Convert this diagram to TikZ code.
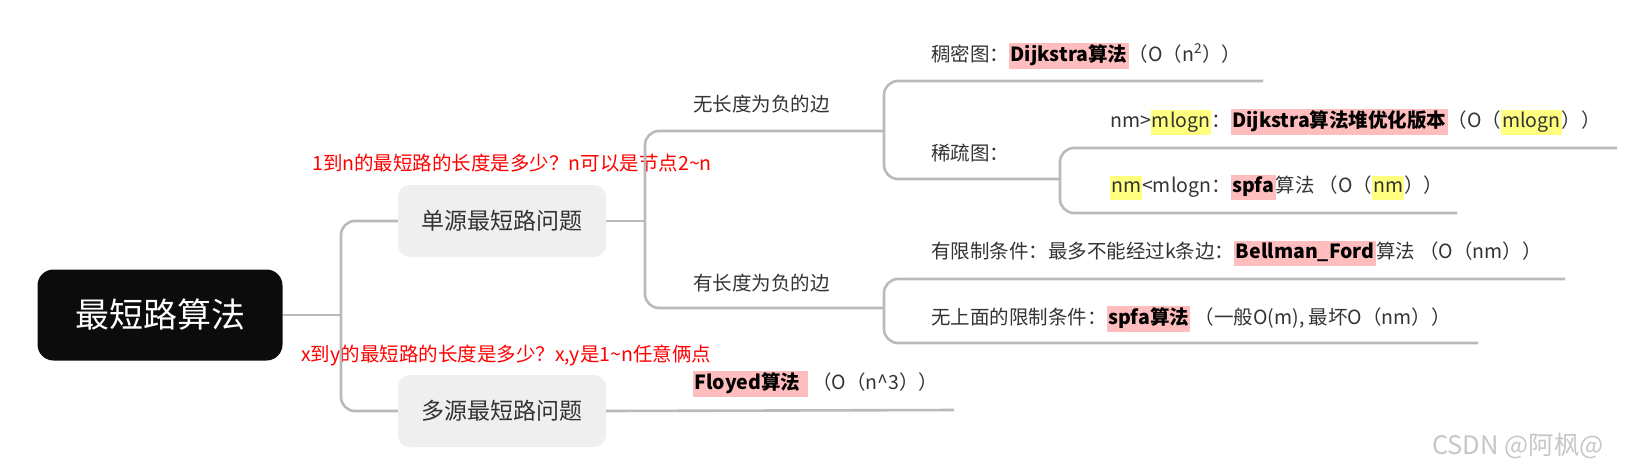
\documentclass[tikz,border=0pt]{standalone}
\usepackage{fontspec}
\setmainfont{Noto Sans CJK SC}
\usetikzlibrary{positioning}
\definecolor{linegray}{RGB}{186,186,186}
\definecolor{boxgray}{RGB}{239,239,239}
\definecolor{rootblack}{RGB}{12,12,12}
\definecolor{hlpink}{RGB}{255,189,189}
\definecolor{hlyellow}{RGB}{255,255,128}
\definecolor{txtgray}{RGB}{51,51,51}
\definecolor{notered}{RGB}{255,0,0}
\newcommand{\hlp}[1]{{\setlength{\fboxsep}{1.5pt}\colorbox{hlpink}{\strut\textcolor{black}{\bfseries #1}}}}
\newcommand{\hly}[1]{{\setlength{\fboxsep}{1pt}\colorbox{hlyellow}{\strut #1}}}

\begin{document}
\begin{tikzpicture}[x=1pt,y=-1pt,
  branch/.style={draw=linegray,line width=2.6pt,rounded corners=14pt},
  rootbox/.style={fill=rootblack,rounded corners=16pt,minimum width=245pt,minimum height=91pt,
    text=white,font=\fontsize{34}{40}\selectfont},
  subbox/.style={fill=boxgray,rounded corners=12pt,minimum width=208pt,minimum height=72pt,
    text=txtgray,font=\fontsize{23}{28}\selectfont},
  topic/.style={anchor=base west,inner sep=0pt,text=txtgray,font=\fontsize{19.5}{22}\selectfont},
  note/.style={anchor=base west,inner sep=0pt,text=notered,font=\fontsize{19.5}{22}\selectfont},
  watermark/.style={inner sep=0pt,text=black!22,font=\fontsize{25.5}{30}\selectfont}]
  \useasboundingbox (0,0) rectangle (1630,474);

  \node[rootbox] (root) at (160,315) {最短路算法};
  \node[subbox] (single) at (502,221) {单源最短路问题};
  \node[subbox] (multi) at (502,411) {多源最短路问题};
  \node[note] (note1) at (312,170) {1到n的最短路的长度是多少？n可以是节点2\textasciitilde n};
  \node[note] (note2) at (301,361) {x到y的最短路的长度是多少？x,y是1\textasciitilde n任意俩点};

  \coordinate (j0) at (341,315);
  \coordinate (j1) at (645,221);
  \coordinate (j2) at (884,131);
  \coordinate (j3) at (1060,179);
  \coordinate (j4) at (884,308);
  \coordinate (dense-e) at (1263,81);
  \coordinate (heap-e) at (1617,148);
  \coordinate (spfa1-e) at (1457,213);
  \coordinate (bellman-e) at (1565,279);
  \coordinate (spfa2-e) at (1478,343);
  \coordinate (floyd-e) at (954,410);

  \draw[branch] (root.east) -- (j0);
  \draw[branch] (j0) |- (single.west);
  \draw[branch] (j0) |- (multi.west);
  \draw[branch] (single.east) -- (j1);
  \draw[branch] (j1) |- (j2);
  \draw[branch] (j1) |- (j4);
  \draw[branch] (j2) |- (dense-e);
  \draw[branch] (j2) |- (j3);
  \draw[branch] (j3) |- (heap-e);
  \draw[branch] (j3) |- (spfa1-e);
  \draw[branch] (j4) |- (bellman-e);
  \draw[branch] (j4) |- (spfa2-e);
  \draw[branch] (multi.east) -- (floyd-e);

  \node[topic] (noneg) at (693,111) {无长度为负的边};
  \node[topic] (neg) at (693,290) {有长度为负的边};
  \node[topic] (dense) at (931,61) {稠密图：\hlp{Dijkstra算法}（O（n\textsuperscript{2}））};
  \node[topic] (sparse) at (931,160) {稀疏图：};
  \node[topic] (heap) at (1110,127) {nm>\hly{mlogn}：\hlp{Dijkstra算法堆优化版本}（O（\hly{mlogn}））};
  \node[topic] (spfa1) at (1110,192) {\hly{nm}<mlogn：\hlp{spfa}算法 （O（\hly{nm}））};
  \node[topic] (bellman) at (931,258) {有限制条件：最多不能经过k条边：\hlp{Bellman\_Ford}算法 （O（nm））};
  \node[topic] (spfa2) at (931,324) {无上面的限制条件：\hlp{spfa算法} （一般O(m), 最坏O（nm））};
  \node[topic] (floyd) at (693,389) {\hlp{Floyed算法\hspace{6pt}} （O（n\textasciicircum 3））};

  \node[watermark] (wm) at (1518,446) {CSDN @阿枫@};
\end{tikzpicture}
\end{document}
